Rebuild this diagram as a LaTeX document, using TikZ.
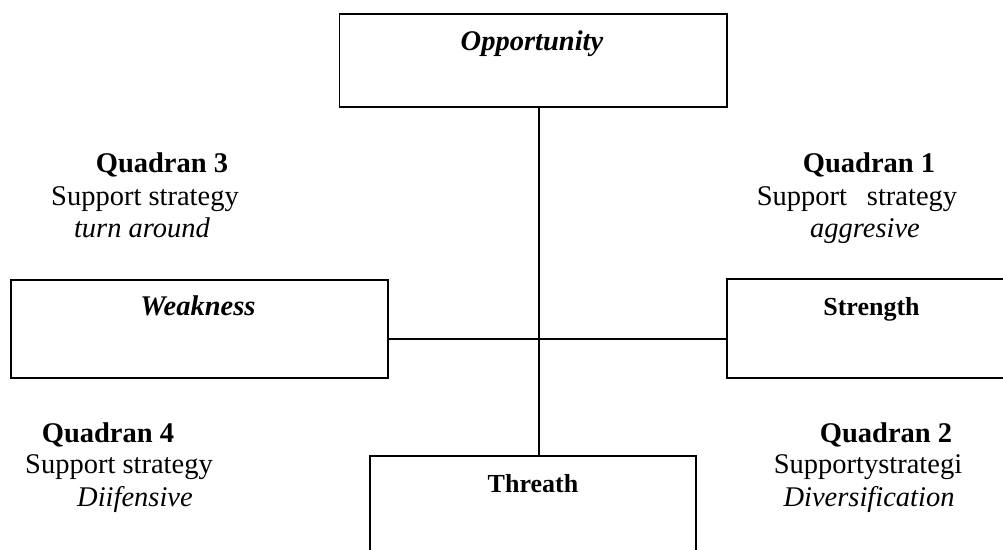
\documentclass[tikz,border=0pt]{standalone}
\usepackage{fontspec}
\setmainfont{Liberation Serif}
\begin{document}
\begin{tikzpicture}[x=1pt,y=-1pt,
  box/.style={draw,line width=1.9pt,rectangle,inner sep=0pt},
  qtext/.style={anchor=base,inner sep=0pt,font=\fontsize{28.5}{34}\selectfont},
  btext/.style={anchor=base,inner sep=0pt,font=\fontsize{26}{31}\selectfont\bfseries}]
\useasboundingbox (0,0) rectangle (1003,549);
\clip (0,0) rectangle (1003,549);
% boxes
\node[box,minimum width=387.5pt,minimum height=93pt] (opp) at (533.25,60.5) {};
\node[box,minimum width=377pt,minimum height=98pt] (weak) at (199.5,329) {};
\node[box,minimum width=320pt,minimum height=99pt] (str) at (887,328.5) {};
\node[box,minimum width=326pt,minimum height=150pt] (thr) at (533,531) {};
% axis coordinates
\coordinate (cx) at (539,0);
\coordinate (cy) at (0,339);
\draw[line width=1.9pt] (opp.south -| cx) -- (thr.north -| cx);
\draw[line width=1.9pt] (weak.east |- cy) -- (str.west |- cy);
% box labels
\node[qtext,font=\fontsize{28.5}{34}\selectfont\bfseries\itshape] (toppt) at (532,50) {Opportunity};
\node[qtext,font=\fontsize{28.5}{34}\selectfont\bfseries\itshape] (tweak) at (198,315) {Weakness};
\node[btext] (tstr) at (871.5,315) {Strength};
\node[btext] (tthr) at (533,492) {Threath};
% quadrant texts
\node[qtext,font=\fontsize{28.5}{34}\selectfont\bfseries] (q3a) at (162,172) {Quadran 3};
\node[qtext] (q3b) at (145,205) {Support strategy};
\node[qtext,font=\fontsize{28.5}{34}\selectfont\itshape] (q3c) at (142,237) {turn around};
\node[qtext,font=\fontsize{28.5}{34}\selectfont\bfseries] (q1a) at (869,172) {Quadran 1};
\node[qtext] (q1b) at (857,205) {Support\hspace{0.7em}strategy};
\node[qtext,font=\fontsize{28.5}{34}\selectfont\itshape] (q1c) at (865,237) {aggresive};
\node[qtext,font=\fontsize{28.5}{34}\selectfont\bfseries] (q4a) at (108,442) {Quadran 4};
\node[qtext] (q4b) at (119,473) {Support strategy};
\node[qtext,font=\fontsize{28.5}{34}\selectfont\itshape] (q4c) at (135,506) {Diifensive};
\node[qtext,font=\fontsize{28.5}{34}\selectfont\bfseries] (q2a) at (886,442) {Quadran 2};
\node[qtext] (q2b) at (868,473) {Supportystrategi};
\node[qtext,font=\fontsize{28.5}{34}\selectfont\itshape] (q2c) at (869,506) {Diversification};
\end{tikzpicture}
\end{document}
